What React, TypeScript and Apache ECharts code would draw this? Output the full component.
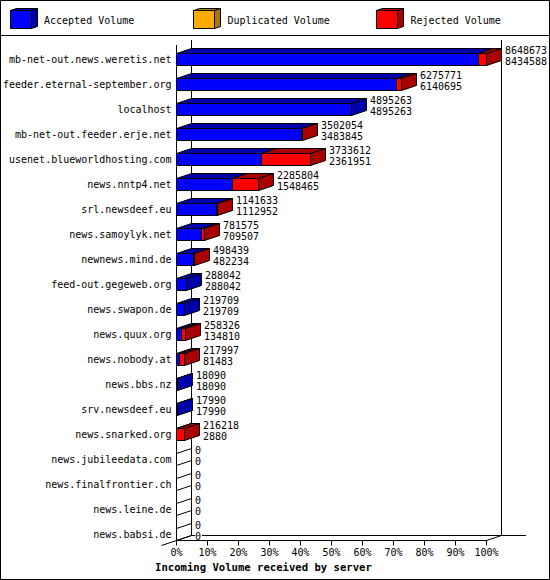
import React, { useEffect, useRef } from "react";
import * as echarts from "echarts";

const servers = [
  "mb-net-out.news.weretis.net",
  "feeder.eternal-september.org",
  "localhost",
  "mb-net-out.feeder.erje.net",
  "usenet.blueworldhosting.com",
  "news.nntp4.net",
  "srl.newsdeef.eu",
  "news.samoylyk.net",
  "newnews.mind.de",
  "feed-out.gegeweb.org",
  "news.swapon.de",
  "news.quux.org",
  "news.nobody.at",
  "news.bbs.nz",
  "srv.newsdeef.eu",
  "news.snarked.org",
  "news.jubileedata.com",
  "news.finalfrontier.ch",
  "news.leine.de",
  "news.babsi.de",
];
const totalVolume = [
  8648673, 6275771, 4895263, 3502054, 3733612, 2285804, 1141633, 781575, 498439, 288042,
  219709, 258326, 217997, 18090, 17990, 216218, 0, 0, 0, 0,
];
const acceptedVolume = [
  8434588, 6140695, 4895263, 3483845, 2361951, 1548465, 1112952, 709507, 482234, 288042,
  219709, 134810, 81483, 18090, 17990, 2880, 0, 0, 0, 0,
];
const legendNames = ["Accepted Volume", "Duplicated Volume", "Rejected Volume"];
const xTitle = "Incoming Volume received by server";

const BLUE = "#0000ff";
const DARK_BLUE = "#0000aa";
const RED = "#ff0000";
const DARK_RED = "#aa0000";
const ORANGE = "#ffaa00";
const DARK_ORANGE = "#aa7700";
const FONT = "'DejaVu Sans Mono', monospace";
const DX = 15;
const DY = 5;
const HALF = 6;

const maxVolume = Math.max(...totalVolume);
const pct = (v: number) => (v / maxVolume) * 100;

const snap = (v: number) => Math.floor(v) + 0.5;
const edge = { stroke: "#000", lineWidth: 1 };

function poly(points: number[][], fill: string) {
  return { type: "polygon", shape: { points }, style: { fill, ...edge } };
}
function seg(x1: number, y1: number, x2: number, y2: number) {
  return { type: "line", shape: { x1, y1, x2, y2 }, style: { stroke: "#000", lineWidth: 1, fill: "none" } };
}
function label(x: number, y: number, text: string) {
  return {
    type: "text",
    style: { x, y, text: text, fill: "#000", font: `10px ${FONT}`, textAlign: "left", textVerticalAlign: "middle" },
  };
}

function renderBox(_: any, api: any) {
  const row = api.value(0);
  const cy = snap(api.coord([0, row])[1]);
  const x0 = snap(api.coord([0, row])[0]);
  const xa = snap(api.coord([api.value(1), row])[0]);
  const xt = snap(api.coord([api.value(2), row])[0]);
  const top = cy - HALF;
  const bot = cy + HALF;
  const children: any[] = [];
  if (api.value(3) === 0) {
    children.push(seg(x0, top, x0 + DX, top - DY), seg(x0, bot, x0 + DX, bot - DY));
  } else {
    const topFace = (a: number, b: number, fill: string) =>
      poly([[a, top], [a + DX, top - DY], [b + DX, top - DY], [b, top]], fill);
    const front = (a: number, b: number, fill: string) =>
      poly([[a, top], [b, top], [b, bot], [a, bot]], fill);
    const rejected = xt > xa;
    children.push(topFace(x0, xa, DARK_BLUE));
    if (rejected) children.push(topFace(xa, xt, DARK_RED));
    children.push(front(x0, xa, BLUE));
    if (rejected) children.push(front(xa, xt, RED));
    children.push(
      poly([[xt, top], [xt + DX, top - DY], [xt + DX, bot - DY], [xt, bot]], rejected ? DARK_RED : DARK_BLUE)
    );
  }
  children.push(label(xt + DX + 3.5, cy - 9, String(api.value(3))), label(xt + DX + 3.5, cy + 2, String(api.value(4))));
  return { type: "group", children };
}

function legendBox(x: number, y: number, front: string, side: string, name: string, textX: number) {
  const w = 21;
  const h = 18;
  const d = 6;
  const up = 2;
  return [
    { type: "polygon", shape: { points: [[x, y], [x + d, y - up], [x + w + d, y - up], [x + w, y]] }, style: { fill: side, ...edge } },
    { type: "polygon", shape: { points: [[x + w, y], [x + w + d, y - up], [x + w + d, y + h - up], [x + w, y + h]] }, style: { fill: side, ...edge } },
    { type: "rect", shape: { x, y, width: w, height: h }, style: { fill: front, ...edge } },
    { type: "text", x: textX, y: y + 10, style: { text: name, fill: "#000", font: `10px ${FONT}`, textVerticalAlign: "middle" } },
  ];
}

function frameLine(x1: number, y1: number, x2: number, y2: number) {
  return { type: "line", z: 0, shape: { x1, y1, x2, y2 }, style: { stroke: "#000", lineWidth: 1 } };
}

export default function App() {
  const ref = useRef<HTMLDivElement>(null);
  useEffect(() => {
    document.body.style.margin = "0";
    const chart = echarts.init(ref.current!, undefined, { renderer: "svg" });
    chart.setOption({
      animation: false,
      backgroundColor: "#fff",
      title: {
        text: xTitle,
        left: 155,
        top: 561,
        padding: 0,
        textStyle: { fontFamily: FONT, fontSize: 10.6, fontWeight: "bold", color: "#000" },
      },
      grid: { left: 176.5, top: 47, width: 310, height: 500, containLabel: false },
      xAxis: {
        type: "value",
        min: 0,
        max: 100,
        interval: 10,
        offset: -6.5,
        axisLine: { show: true, onZero: false, lineStyle: { color: "#000", width: 1 } },
        axisTick: { show: true, length: 5, lineStyle: { color: "#000", width: 1 } },
        splitLine: { show: false },
        axisLabel: { formatter: "{value}%", color: "#000", margin: 7, fontFamily: FONT, fontSize: 10 },
      },
      yAxis: {
        type: "category",
        inverse: true,
        data: servers,
        axisLine: { show: false },
        axisTick: { show: false },
        axisLabel: { color: "#000", margin: 5, fontFamily: FONT, fontSize: 10, interval: 0 },
      },
      series: [
        {
          type: "custom",
          coordinateSystem: "cartesian2d",
          clip: false,
          renderItem: renderBox,
          encode: { x: [1, 2], y: 0 },
          data: servers.map((_, i) => [i, pct(acceptedVolume[i]), pct(totalVolume[i]), totalVolume[i], acceptedVolume[i]]),
        },
      ],
      graphic: [
        { type: "rect", z: 0, shape: { x: 0.5, y: 0.5, width: 549, height: 579 }, style: { fill: "none", ...edge } },
        frameLine(0, 35.5, 550, 35.5),
        frameLine(176.5, 45, 176.5, 540.5),
        frameLine(191.5, 40, 191.5, 535.5),
        frameLine(501.5, 40, 501.5, 535.5),
        frameLine(192, 535.5, 195, 535.5),
        frameLine(202, 535.5, 526, 535.5),
        frameLine(161.5, 545.5, 191.5, 535.5),
        frameLine(486.5, 540.5, 501.5, 535.5),
        ...legendBox(10.5, 10.5, BLUE, DARK_BLUE, legendNames[0], 44),
        ...legendBox(193.5, 10.5, ORANGE, DARK_ORANGE, legendNames[1], 227.5),
        ...legendBox(376.5, 10.5, RED, DARK_RED, legendNames[2], 410.5),
      ],
    });
    return () => chart.dispose();
  }, []);
  return <div ref={ref} style={{ width: 550, height: 580 }} />;
}
